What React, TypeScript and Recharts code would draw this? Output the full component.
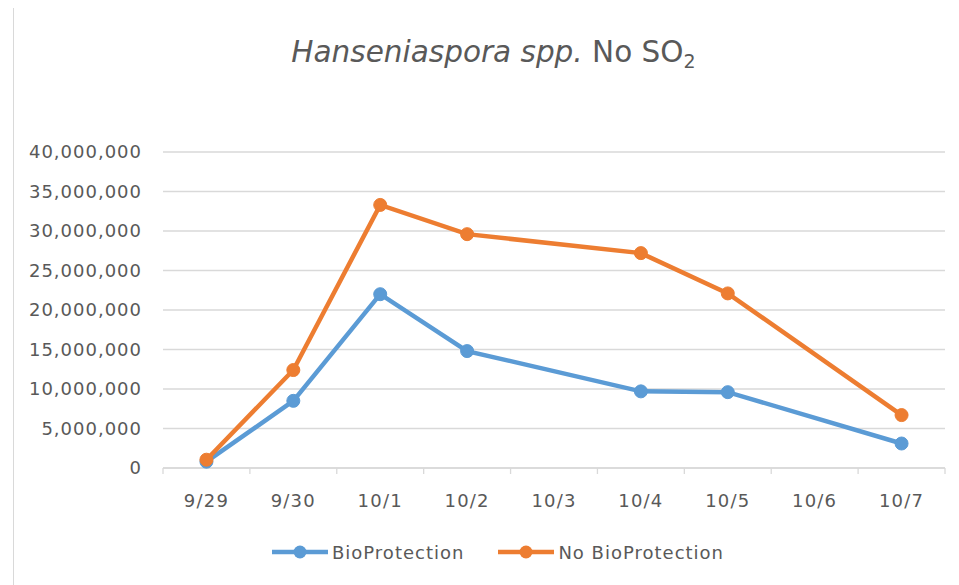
import React from 'react';
import { LineChart, Line, XAxis, YAxis, CartesianGrid, Legend } from 'recharts';

const categories = ['9/29', '9/30', '10/1', '10/2', '10/3', '10/4', '10/5', '10/6', '10/7'];
const bioProtection = [800000, 8500000, 22000000, 14800000, null, 9700000, 9600000, null, 3100000];
const noBioProtection = [1050000, 12400000, 33300000, 29600000, null, 27200000, 22100000, null, 6700000];
const yTicks = [0, 5000000, 10000000, 15000000, 20000000, 25000000, 30000000, 35000000, 40000000];

const BLUE = '#5B9BD5';
const ORANGE = '#ED7D31';
const TEXT = '#595959';
const GRID = '#d9d9d9';
const FONT = '"DejaVu Sans", sans-serif';

const data = categories.map((c, i) => ({
  idx: i,
  cat: c,
  bio: bioProtection[i],
  noBio: noBioProtection[i],
}));

const labelTicks = categories.map((_, i) => i);
const boundaryTicks = [...categories.map((_, i) => i - 0.5), categories.length - 0.5];

const seriesInfo = [
  { key: 'bio', name: 'BioProtection', color: BLUE },
  { key: 'noBio', name: 'No BioProtection', color: ORANGE },
];

const LegendContent = () => (
  <div
    style={{
      width: 940,
      height: 24,
      display: 'flex',
      justifyContent: 'center',
      alignItems: 'center',
      paddingLeft: 10,
      boxSizing: 'border-box',
      fontFamily: FONT,
      fontSize: 18,
      letterSpacing: 1.0,
      color: TEXT,
    }}
  >
    {seriesInfo.map((s, i) => (
      <div key={s.key} style={{ display: 'flex', alignItems: 'center', marginLeft: i === 0 ? 0 : 34 }}>
        <svg width={56} height={16} style={{ marginRight: 4 }}>
          <line x1={0} y1={8} x2={56} y2={8} stroke={s.color} strokeWidth={4.5} />
          <circle cx={28} cy={8} r={6.5} fill={s.color} />
        </svg>
        <span>{s.name}</span>
      </div>
    ))}
  </div>
);

const BoundaryTick = (props: any) => {
  const { x, y } = props;
  return <line x1={x} y1={y} x2={x} y2={y + 6} stroke={GRID} strokeWidth={1.3} />;
};

export default function App() {
  return (
    <div
      style={{
        position: 'relative',
        marginLeft: 5,
        marginTop: -1,
        width: 946,
        height: 578,
        borderLeft: `1px solid ${GRID}`,
        borderTop: `1px solid ${GRID}`,
        boxSizing: 'border-box',
        background: '#fff',
        overflow: 'hidden',
      }}
    >
      <svg style={{ position: 'absolute', left: 0, top: 0 }} width={945} height={90}>
        <text x={479.5} y={53.7} textAnchor="middle" fontFamily={FONT} fontSize={29.5} fill={TEXT}>
          <tspan fontStyle="italic">Hanseniaspora spp.</tspan>
          <tspan> No SO</tspan>
          <tspan fontSize={19} dy={6}>2</tspan>
        </text>
      </svg>
      <div style={{ position: 'absolute', left: 0, top: 0 }}>
        <LineChart width={940} height={570} data={data} margin={{ top: 144, right: 9, left: 9, bottom: 14 }}>
          <CartesianGrid vertical={false} stroke={GRID} strokeWidth={1.3} xAxisId="grid" />
          <XAxis
            xAxisId="grid"
            dataKey="idx"
            type="number"
            domain={[-0.5, categories.length - 0.5]}
            ticks={boundaryTicks}
            interval={0}
            height={8}
            tickSize={0}
            tickMargin={0}
            tick={<BoundaryTick />}
            axisLine={{ stroke: GRID, strokeWidth: 1.3 }}
            tickLine={false}
            allowDecimals
          />
          <XAxis
            xAxisId="lab"
            dataKey="idx"
            type="number"
            domain={[-0.5, categories.length - 0.5]}
            ticks={labelTicks}
            interval={0}
            height={64}
            tickSize={0}
            tickMargin={18}
            axisLine={false}
            tickLine={false}
            tickFormatter={(v: number) => categories[v]}
            tick={{ fill: TEXT, fontFamily: FONT, fontSize: 18, letterSpacing: 1.2 }}
          />
          <YAxis
            domain={[0, 40000000]}
            ticks={yTicks}
            interval={0}
            width={140}
            axisLine={false}
            tickLine={false}
            tickSize={0}
            tickMargin={21}
            tickFormatter={(v: number) => v.toLocaleString('en-US')}
            tick={{ fill: TEXT, fontFamily: FONT, fontSize: 18, letterSpacing: 1.0 }}
          />
          <Legend verticalAlign="bottom" align="center" content={<LegendContent />} />
          <Line
            xAxisId="lab"
            type="linear"
            dataKey="bio"
            name="BioProtection"
            stroke={BLUE}
            strokeWidth={4.5}
            dot={{ r: 6.5, fill: BLUE, stroke: BLUE, strokeWidth: 1 }}
            activeDot={false}
            connectNulls
            isAnimationActive={false}
          />
          <Line
            xAxisId="lab"
            type="linear"
            dataKey="noBio"
            name="No BioProtection"
            stroke={ORANGE}
            strokeWidth={4.5}
            dot={{ r: 6.5, fill: ORANGE, stroke: ORANGE, strokeWidth: 1 }}
            activeDot={false}
            connectNulls
            isAnimationActive={false}
          />
        </LineChart>
      </div>
    </div>
  );
}
